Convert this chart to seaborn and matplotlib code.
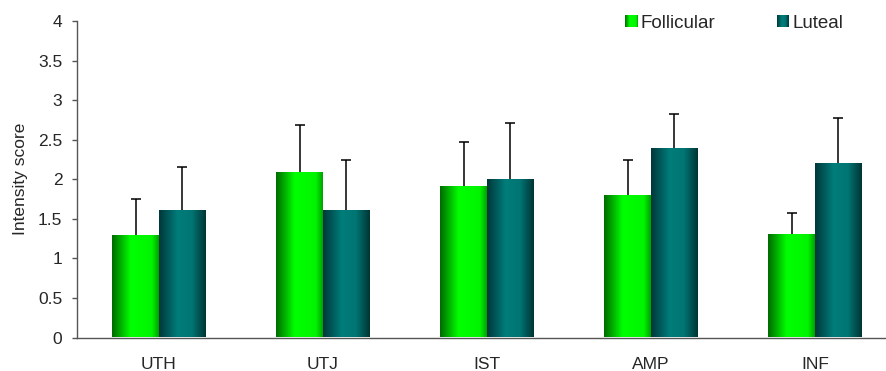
import numpy as np
import pandas as pd
import matplotlib
matplotlib.use("Agg")
import matplotlib.pyplot as plt
import seaborn as sns
from matplotlib.colors import LinearSegmentedColormap
from matplotlib.patches import Rectangle
from matplotlib.legend_handler import HandlerBase

# data
sites = ["UTH", "UTJ", "IST", "AMP", "INF"]
follicular = [1.30, 2.09, 1.91, 1.80, 1.31]
follicular_err = [0.45, 0.60, 0.56, 0.44, 0.26]
luteal = [1.61, 1.61, 2.00, 2.40, 2.20]
luteal_err = [0.54, 0.63, 0.71, 0.42, 0.57]
phases = ["Follicular", "Luteal"]

df = pd.DataFrame({
    "Site": sites * 2,
    "Phase": ["Follicular"] * len(sites) + ["Luteal"] * len(sites),
    "Score": follicular + luteal,
    "Err": follicular_err + luteal_err,
})

sns.set_style("white")
plt.rcParams["font.family"] = ["Liberation Sans", "DejaVu Sans"]

fig = plt.figure(figsize=(8.87, 3.71), dpi=100)
ax = fig.add_axes([77 / 887, 33.5 / 371, 820 / 887, 316.5 / 371])

base = {"Follicular": "#00e000", "Luteal": "#007070"}
sns.barplot(data=df, x="Site", y="Score", hue="Phase", order=sites,
            hue_order=phases, palette=base, width=0.57, errorbar=None,
            legend=False, ax=ax)

# gradient fills per series
grads = {
    "Follicular": LinearSegmentedColormap.from_list(
        "fol", [(0, "#006a00"), (0.4, "#00ff00"), (0.85, "#00f500"), (1, "#00a000")]),
    "Luteal": LinearSegmentedColormap.from_list(
        "lut", [(0, "#00373a"), (0.4, "#007d7a"), (0.7, "#007573"), (1, "#003535")]),
}
grad_img = np.linspace(0, 1, 256).reshape(1, -1)

for cont, phase in zip(ax.containers, phases):
    errs = df.loc[df["Phase"] == phase, "Err"].to_numpy()
    xs, ys = [], []
    for patch in cont.patches:
        x0, w = patch.get_x(), patch.get_width()
        h = patch.get_height()
        im = ax.imshow(grad_img, cmap=grads[phase], aspect="auto",
                       extent=(x0, x0 + w, 0, h), zorder=2)
        im.set_clip_path(patch)
        patch.set_facecolor("none")
        patch.set_edgecolor("none")
        xs.append(x0 + w / 2)
        ys.append(h)
    eb = ax.errorbar(xs, ys, yerr=[np.zeros_like(errs), errs], fmt="none",
                     ecolor="black", elinewidth=1.1, capsize=3.3, capthick=1.1,
                     zorder=3)
    # only the upper cap is drawn in the original
    eb[1][0].set_visible(False)

ax.set_xlim(-0.5, len(sites) - 0.5)
ax.set_ylim(0, 4)
ax.set_yticks(np.arange(0, 4.01, 0.5))
ax.set_yticklabels(["0", "0.5", "1", "1.5", "2", "2.5", "3", "3.5", "4"])
ax.set_xticks(np.arange(-0.5, len(sites)), minor=True)
ax.tick_params(axis="x", which="major", length=0, pad=14, labelsize=12.5)
ax.tick_params(axis="x", which="minor", length=4.3, color="#555555", width=1)
ax.tick_params(axis="y", length=3.6, color="#555555", width=1, labelsize=12.5,
               pad=7, left=True)
ax.set_xlabel("")
ax.set_ylabel("Intensity score", fontsize=12.5, labelpad=7)

for s in ["top", "right"]:
    ax.spines[s].set_visible(False)
for s in ["left", "bottom"]:
    ax.spines[s].set_color("#555555")
    ax.spines[s].set_linewidth(1)


class GradientSquare(HandlerBase):
    def __init__(self, cmap):
        super().__init__()
        self.cmap = cmap

    def create_artists(self, legend, orig_handle, xdescent, ydescent,
                       width, height, fontsize, trans):
        side = min(width, height * 1.1)
        x0 = -xdescent + (width - side) / 2
        y0 = -ydescent + (height - side) / 2
        n = 12
        arts = []
        for i in range(n):
            r = Rectangle((x0 + side * i / n, y0), side / n * 1.05, side,
                          facecolor=self.cmap((i + 0.5) / n), edgecolor="none",
                          transform=trans)
            arts.append(r)
        return arts


handles = [Rectangle((0, 0), 1, 1), Rectangle((0, 0), 1, 1)]
fig.legend(handles, phases, ncol=2, frameon=False, fontsize=13.5,
           loc="center left", bbox_to_anchor=(616 / 887, 348 / 371),
           borderpad=0, handletextpad=0.15, columnspacing=3.3,
           handlelength=0.65, handleheight=0.55,
           handler_map={handles[0]: GradientSquare(grads["Follicular"]),
                        handles[1]: GradientSquare(grads["Luteal"])})

fig.savefig("out.png", dpi=100)
